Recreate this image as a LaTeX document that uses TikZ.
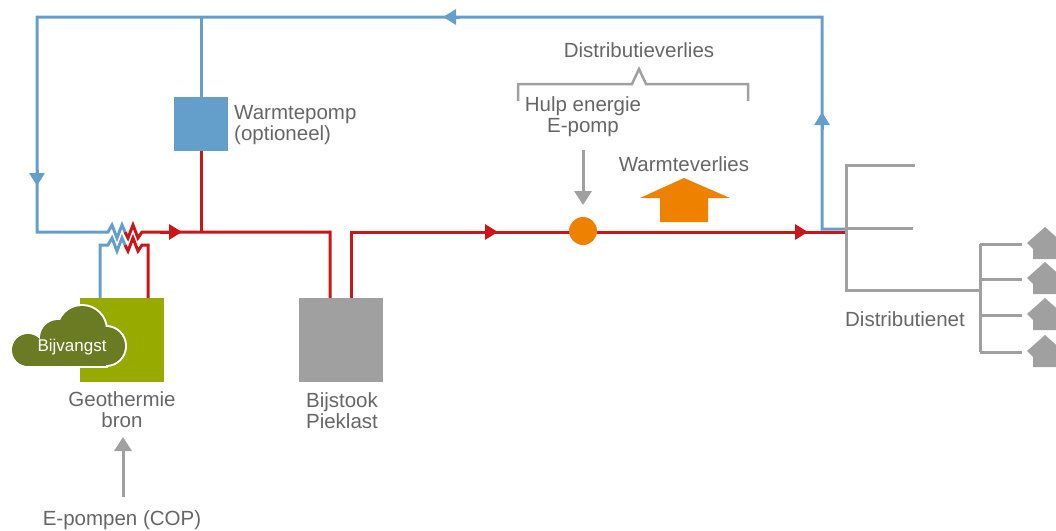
\documentclass[tikz,border=0pt]{standalone}
\usepackage{fontspec}
\setmainfont{Liberation Sans}
\usetikzlibrary{arrows.meta}
\definecolor{koud}{HTML}{649FCC}
\definecolor{heet}{HTML}{CC1518}
\definecolor{grijs}{HTML}{A0A0A0}
\definecolor{tekst}{HTML}{666666}
\definecolor{oranje}{HTML}{EE8200}
\definecolor{geogroen}{HTML}{96AA00}
\definecolor{wolk}{HTML}{6B7B24}
\begin{document}
\begin{tikzpicture}[x=1pt,y=-1pt,
    koudleiding/.style={koud,line width=3pt},
    heetleiding/.style={heet,line width=3pt},
    net/.style={grijs,line width=3pt},
    pijl/.style={-{Triangle[length=13pt,width=15pt]}},
    label/.style={text=tekst,font=\fontsize{20.5}{21}\selectfont,align=center,inner sep=0pt},
    blok/.style={minimum width=#1,minimum height=#1,inner sep=0pt}]
    \useasboundingbox (0,0) rectangle (1056,530);
    \clip (0,0) rectangle (1056,530);
    % boxes
    \node[blok=54pt,fill=koud] (wp) at (201,124) {};
    \node[blok=84pt,fill=geogroen] (geo) at (122,340) {};
    \node[blok=84pt,fill=grijs] (bijstook) at (341,340) {};
    % cold loop
    \draw[koudleiding] (wp.north) -- (201,17);
    \draw[koudleiding] (846,229) -- (822,229) -- (822,17) -- (37,17) -- (37,232) -- (108,232)
        -- (112,225) -- (117,238) -- (122,225) -- (125,232);
    \draw[koudleiding] (geo.north -| 100,0) -- (100,245) -- (108,245)
        -- (112,238) -- (117,251) -- (122,238) -- (125,245);
    \draw[koudleiding,pijl] (37,170) -- (37,186);
    \draw[koudleiding,pijl] (460,17) -- (443,17);
    \draw[koudleiding,pijl] (822,130) -- (822,112);
    % hot side
    \draw[heetleiding] (125,232) -- (128,238) -- (133,225) -- (138,238) -- (142,232)
        -- (330,232) -- (bijstook.north -| 330,0);
    \draw[heetleiding] (125,245) -- (128,251) -- (133,238) -- (138,251) -- (142,245)
        -- (148,245) -- (geo.north -| 148,0);
    \draw[heetleiding] (wp.south) -- (201,232);
    \draw[heetleiding] (bijstook.north -| 351,0) -- (351,232) -- (846,232);
    \draw[heetleiding,pijl] (160,232) -- (182,232);
    \draw[heetleiding,pijl] (480,232) -- (498,232);
    \draw[heetleiding,pijl] (790,232) -- (808,232);
    \node[circle,fill=oranje,minimum size=28pt,inner sep=0pt] (pomp) at (583,231) {};
    % bijvangst cloud
    \draw[white,line width=4pt] (28,350) circle (16);
    \draw[white,line width=4pt] (58,338) circle (18);
    \draw[white,line width=4pt] (82,330) circle (24);
    \draw[white,line width=4pt] (106,346) circle (19);
    \draw[white,line width=4pt] (28,340) rectangle (106,366);
    \fill[wolk] (28,350) circle (16);
    \fill[wolk] (58,338) circle (18);
    \fill[wolk] (82,330) circle (24);
    \fill[wolk] (106,346) circle (19);
    \fill[wolk] (28,340) rectangle (106,366);
    \node[text=white,font=\fontsize{17}{18}\selectfont,inner sep=0pt] (bijvangst) at (72,347) {Bijvangst};
    % labels
    \node[label,anchor=west,align=left] (wplabel) at (234,125) {Warmtepomp\\(optioneel)};
    \node[label] (geolabel) at (122,410) {Geothermie\\bron};
    \node[label] (bijlabel) at (342,411) {Bijstook\\Pieklast};
    \node[label] (epomp) at (122,520) {E-pompen (COP)};
    \coordinate (epompvoet) at (123,497);
    \coordinate (epomptop) at (123,437);
    \draw[grijs,line width=3pt,-{Triangle[length=14pt,width=17pt]}] (epompvoet) -- (epomptop);
    \node[label] (dvlabel) at (639,50) {Distributieverlies};
    \draw[grijs,line width=2.5pt] (518,101) -- (518,84) -- (632,84) -- (639,69) -- (646,84) -- (748,84) -- (748,101);
    \node[label] (hulp) at (583,117) {Hulp energie\\E-pomp};
    \coordinate (hulpvoet) at (583,150);
    \coordinate (hulptop) at (583,205);
    \draw[grijs,line width=3pt,-{Triangle[length=14pt,width=17pt]}] (hulpvoet) -- (hulptop);
    \node[label] (wvlabel) at (684,164) {Warmteverlies};
    \fill[oranje] (660,222) -- (660,198) -- (640,198) -- (684,178) -- (730,198) -- (708,198) -- (708,222) -- cycle;
    % distributienet
    \draw[net] (915,165) -- (846,165) -- (846,290) -- (980,290);
    \draw[net] (846,228) -- (913,228);
    \draw[net] (980,244) -- (980,352);
    \draw[net] (980,244) -- (1022,244);
    \draw[net] (980,279) -- (1022,279);
    \draw[net] (980,315) -- (1022,315);
    \draw[net] (980,352) -- (1022,352);
    \fill[grijs] (1027,243) -- (1045,227) -- (1063,243) -- (1063,259) -- (1033,259) -- (1033,249) -- cycle;
    \fill[grijs] (1027,278) -- (1045,262) -- (1063,278) -- (1063,294) -- (1033,294) -- (1033,284) -- cycle;
    \fill[grijs] (1027,314) -- (1045,298) -- (1063,314) -- (1063,330) -- (1033,330) -- (1033,320) -- cycle;
    \fill[grijs] (1027,351) -- (1045,335) -- (1063,351) -- (1063,367) -- (1033,367) -- (1033,357) -- cycle;
    \node[label] (netlabel) at (905,319) {Distributienet};
\end{tikzpicture}
\end{document}
